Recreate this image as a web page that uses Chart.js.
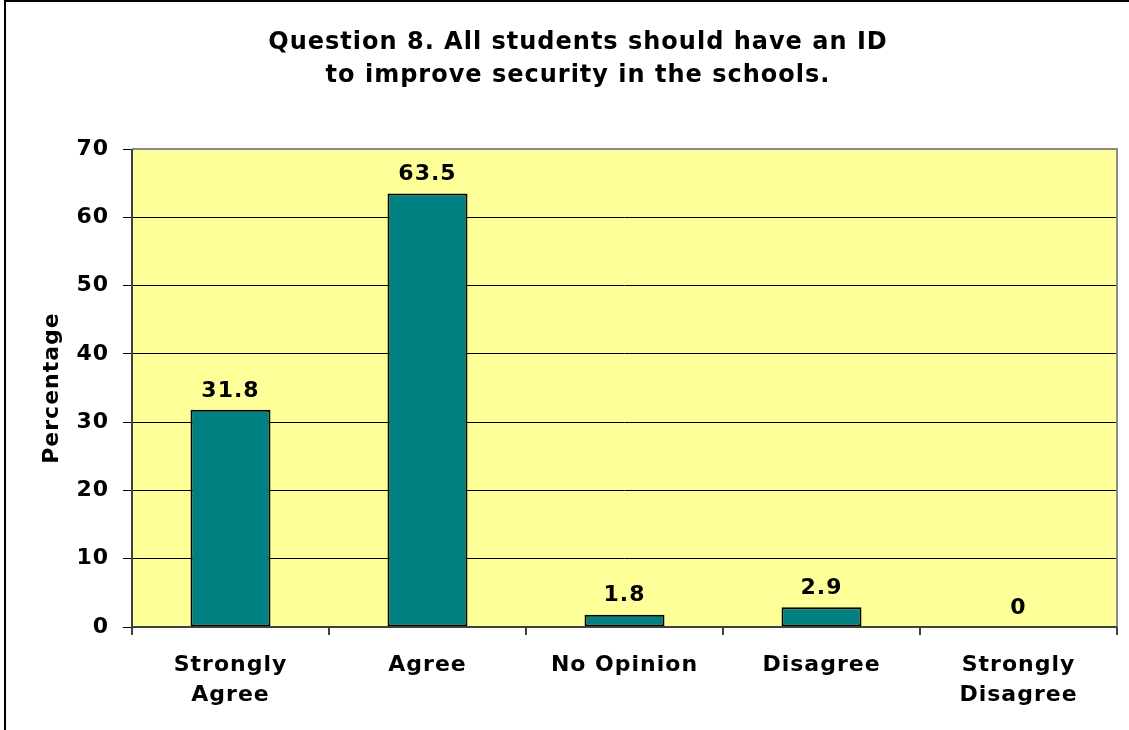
<!DOCTYPE html>
<html>
<head>
<meta charset="utf-8">
<script src="https://cdn.jsdelivr.net/npm/chart.js@4.4.0/dist/chart.umd.min.js"></script>
<style>
  html, body { margin: 0; padding: 0; background: #fff; overflow: hidden; }
  #frame {
    position: absolute; left: 4px; top: 0px;
    width: 1144px; height: 740px;
    border-left: 2px solid #000; border-top: 2px solid #000;
  }
  #wrap { position: absolute; left: 0; top: 0; width: 1142px; height: 728px; }
</style>
</head>
<body>
<div id="frame"><div id="wrap"><canvas id="chart"></canvas></div></div>
<script>
// data
var categories = [["Strongly", "Agree"], "Agree", "No Opinion", "Disagree", ["Strongly", "Disagree"]];
var percentages = [31.8, 63.5, 1.8, 2.9, 0];
var valueLabels = ["31.8", "63.5", "1.8", "2.9", "0"];
var titleLines = ["Question 8. All students should have an ID", "to improve security in the schools."];

var fontFamily = "'DejaVu Sans', Verdana, sans-serif";

// wider letters, closer to the Verdana look
var spacing = {
  id: "spacing",
  beforeUpdate: function (chart) { chart.ctx.letterSpacing = "1px"; },
  beforeLayout: function (chart) { chart.ctx.letterSpacing = "1px"; },
  beforeDraw: function (chart) { chart.ctx.letterSpacing = "1px"; }
};

// yellow plot area with gray outline
var plotBackground = {
  id: "plotBackground",
  beforeDraw: function (chart) {
    var a = chart.chartArea;
    var ctx = chart.ctx;
    ctx.save();
    ctx.fillStyle = "#FFFF99";
    ctx.fillRect(a.left, a.top, a.right - a.left, a.bottom - a.top);
    ctx.restore();
  },
  afterDraw: function (chart) {
    var a = chart.chartArea;
    var ctx = chart.ctx;
    ctx.save();
    ctx.strokeStyle = "#8c8c8c";
    ctx.lineWidth = 2;
    ctx.beginPath();
    ctx.moveTo(a.left, a.top);
    ctx.lineTo(a.right, a.top);
    ctx.lineTo(a.right, a.bottom);
    ctx.stroke();
    ctx.strokeStyle = "#404040";
    ctx.beginPath();
    ctx.moveTo(a.left, a.top);
    ctx.lineTo(a.left, a.bottom);
    ctx.lineTo(a.right, a.bottom);
    ctx.stroke();
    ctx.restore();
  }
};

// value labels above the bars
var barValues = {
  id: "barValues",
  afterDatasetsDraw: function (chart) {
    var ctx = chart.ctx;
    var meta = chart.getDatasetMeta(0);
    ctx.save();
    ctx.font = "bold 22px " + fontFamily;
    ctx.fillStyle = "#000";
    ctx.textAlign = "center";
    ctx.textBaseline = "bottom";
    meta.data.forEach(function (bar, i) {
      ctx.fillText(valueLabels[i], bar.x, bar.y - 8);
    });
    ctx.restore();
  }
};

new Chart(document.getElementById("chart").getContext("2d"), {
  type: "bar",
  data: {
    labels: categories,
    datasets: [
      {
        data: percentages,
        backgroundColor: "#008080",
        borderColor: "#000",
        borderWidth: 2,
        borderSkipped: false,
        barPercentage: 0.406,
        categoryPercentage: 1.0
      }
    ]
  },
  options: {
    responsive: true,
    maintainAspectRatio: false,
    animation: false,
    layout: { padding: { left: 33, right: 31, top: 0, bottom: 0 } },
    scales: {
      x: {
        afterFit: function (scale) { scale.height = 103; },
        grid: {
          offset: true,
          drawOnChartArea: false,
          drawTicks: true,
          tickLength: 8,
          color: "#404040",
          lineWidth: 2
        },
        border: { display: false },
        ticks: {
          color: "#000",
          padding: 15,
          maxRotation: 0,
          autoSkip: false,
          font: { family: fontFamily, size: 22, weight: "bold", lineHeight: 1.36 }
        }
      },
      y: {
        min: 0,
        max: 70,
        afterFit: function (scale) { scale.width = 93; },
        grid: {
          color: "#000",
          lineWidth: 1,
          drawTicks: true,
          tickLength: 9
        },
        border: { display: false },
        ticks: {
          stepSize: 10,
          color: "#000",
          padding: 14,
          font: { family: fontFamily, size: 22, weight: "bold" }
        },
        title: {
          display: true,
          text: "Percentage",
          color: "#000",
          padding: { top: 0, bottom: 0 },
          font: { family: fontFamily, size: 22, weight: "bold" }
        }
      }
    },
    plugins: {
      legend: { display: false },
      tooltip: { enabled: false },
      title: {
        display: true,
        text: titleLines,
        color: "#000",
        padding: { top: 24, bottom: 57 },
        font: { family: fontFamily, size: 24, weight: "bold", lineHeight: 1.375 }
      }
    }
  },
  plugins: [spacing, plotBackground, barValues]
});
</script>
</body>
</html>
